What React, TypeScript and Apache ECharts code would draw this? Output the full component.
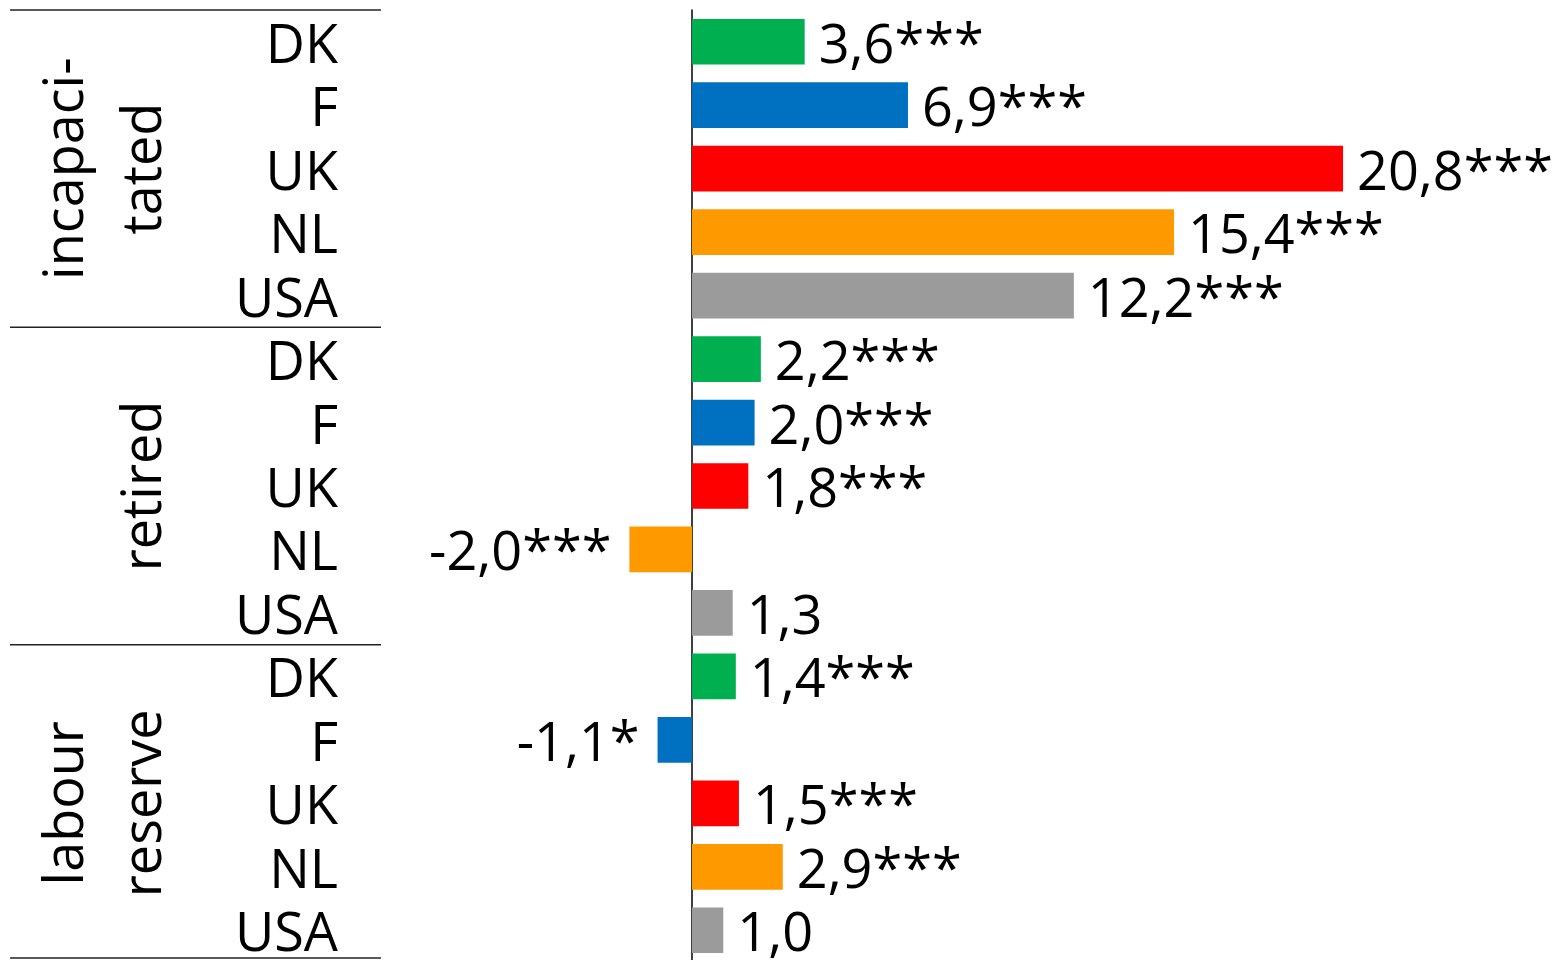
import React, { useEffect, useRef } from "react";
import * as echarts from "echarts";

// Outcome groups, each with the same five countries
const groups = ["incapacitated", "retired", "labour reserve"];
const groupLines = [["incapaci-", "tated"], ["retired"], ["labour", "reserve"]];
const countries = ["DK", "F", "UK", "NL", "USA"];

// Effect sizes per group, in country order
const incapacitated = [3.6, 6.9, 20.8, 15.4, 12.2];
const retired = [2.2, 2.0, 1.8, -2.0, 1.3];
const labourReserve = [1.4, -1.1, 1.5, 2.9, 1.0];

// Significance markers per group
const incapacitatedStars = ["***", "***", "***", "***", "***"];
const retiredStars = ["***", "***", "***", "***", ""];
const labourReserveStars = ["***", "*", "***", "***", ""];

const countryColors: Record<string, string> = {
  DK: "#00B050",
  F: "#0070C0",
  UK: "#FF0000",
  NL: "#FF9900",
  USA: "#9B9B9B",
};

const FONT = "'Open Sans', 'Noto Sans', sans-serif";
const FONT_SIZE = 54;
const LINE_HEIGHT = 58;

export default function App() {
  const ref = useRef<HTMLDivElement>(null);

  useEffect(() => {
    if (!ref.current) return;
    const chart = echarts.init(ref.current, undefined, { renderer: "svg" });

    const values = [...incapacitated, ...retired, ...labourReserve];
    const stars = [...incapacitatedStars, ...retiredStars, ...labourReserveStars];
    const rowLabels = groups.flatMap(() => countries);

    const gridLeft = 379;
    const gridTop = 10;
    const gridHeight = 952;
    const rowH = gridHeight / rowLabels.length;

    const data = values.map((v, i) => ({
      value: v,
      itemStyle: { color: countryColors[rowLabels[i]] },
      label: {
        position: v < 0 ? "left" : "right",
        distance: v < 0 ? 18 : 14,
      },
    }));

    // Group separators and rotated group titles on the left
    const graphics: any[] = [];
    for (let g = 0; g <= groups.length; g++) {
      const y = Math.min(gridTop + g * countries.length * rowH, 958);
      graphics.push({
        type: "line",
        shape: { x1: 10, y1: y, x2: 381, y2: y },
        style: { stroke: "#222", lineWidth: 1.5 },
      });
    }
    groupLines.forEach((lines, g) => {
      const cy = gridTop + (g + 0.5) * countries.length * rowH;
      const xs = lines.length === 2 ? [62, 140] : [140];
      lines.forEach((t, k) => {
        graphics.push({
          type: "text",
          x: xs[k],
          y: cy,
          rotation: Math.PI / 2,
          style: {
            text: t,
            font: `${FONT_SIZE}px ${FONT}`,
            fill: "#000",
            align: "center",
            verticalAlign: "middle",
          },
        });
      });
    });

    chart.setOption({
      animation: false,
      backgroundColor: "#fff",
      grid: {
        left: gridLeft,
        top: gridTop,
        width: 37 * 31.3,
        height: gridHeight,
        containLabel: false,
        outerBoundsMode: "none",
      },
      xAxis: {
        type: "value",
        min: -10,
        max: 27,
        show: false,
        splitLine: { show: false },
      },
      yAxis: {
        type: "category",
        inverse: true,
        data: rowLabels,
        axisLine: { show: true, onZero: true, lineStyle: { color: "#000", width: 1.5 } },
        axisTick: { show: false },
        axisLabel: {
          interval: 0,
          hideOverlap: false,
          margin: gridLeft - 338,
          fontFamily: FONT,
          fontSize: FONT_SIZE,
          lineHeight: LINE_HEIGHT,
          color: "#000",
          align: "right",
        },
      },
      series: [
        {
          type: "bar",
          data,
          barCategoryGap: "28%",
          label: {
            show: true,
            fontFamily: FONT,
            fontSize: FONT_SIZE,
            lineHeight: LINE_HEIGHT,
            color: "#000",
            formatter: (p: any) =>
              `${Number(p.value).toFixed(1).replace(".", ",")}${stars[p.dataIndex]}`,
          },
        },
      ],
      graphic: graphics,
    });

    return () => chart.dispose();
  }, []);

  return (
    <div
      ref={ref}
      style={{ position: "fixed", left: 0, top: 0, width: 1564, height: 960 }}
    />
  );
}
